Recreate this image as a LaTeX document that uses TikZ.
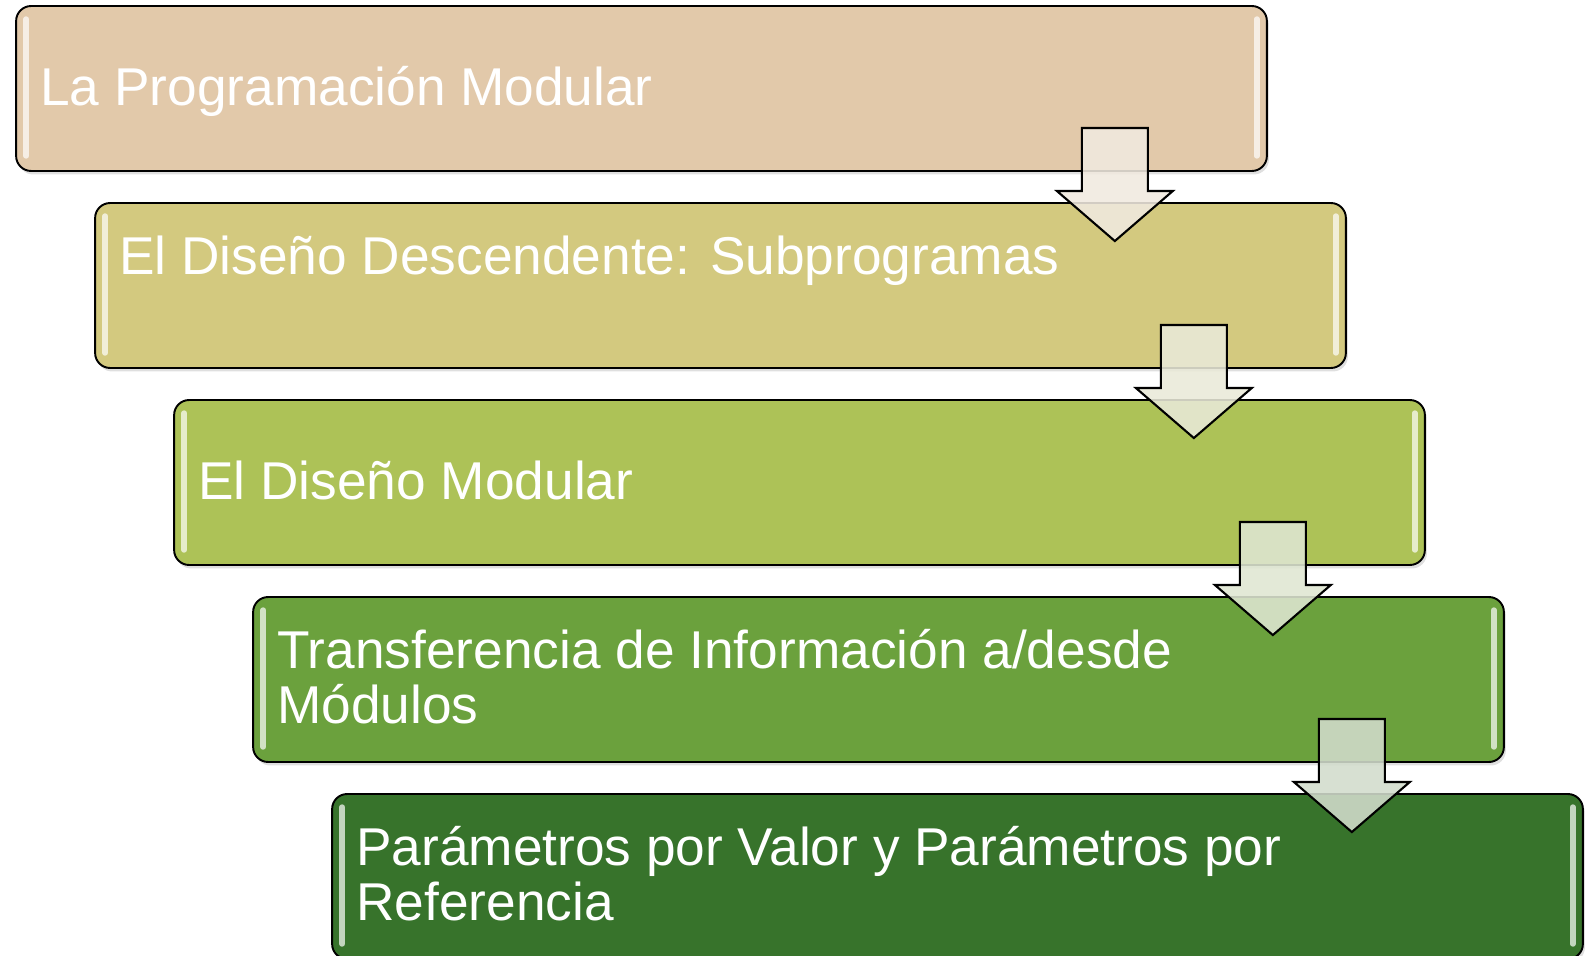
\documentclass[tikz,border=0pt]{standalone}
\usepackage{fontspec}
\setmainfont{Liberation Sans}
\usetikzlibrary{calc,shadows}

\definecolor{stagea}{HTML}{E2C9AA}
\definecolor{stageb}{HTML}{D3C97F}
\definecolor{stagec}{HTML}{ADC257}
\definecolor{staged}{HTML}{6BA13D}
\definecolor{stagee}{HTML}{37732B}
\definecolor{arrowa}{HTML}{F0E9DF}
\definecolor{arrowb}{HTML}{E9E9D8}
\definecolor{arrowc}{HTML}{DFE6D2}
\definecolor{arrowd}{HTML}{D2DCCC}

\tikzset{
  stage/.style={draw=black, line width=1.1pt, rounded corners=0.3cm,
    minimum width=25.02cm, minimum height=3.3cm, inner sep=0pt,
    drop shadow={opacity=0.25, shadow xshift=0.04cm, shadow yshift=-0.07cm}},
  stagetext/.style={text=white, anchor=base west, align=left, inner sep=0pt,
    font=\fontsize{30.3}{31.3}\selectfont},
  gloss/.style={white, opacity=0.7, line width=0.11cm, line cap=round},
  downarrow/.style={draw=black, line width=1.2pt, line join=miter, fill opacity=0.88},
}

% block arrow from the bottom of #1 into the top of #2
\newcommand{\stagearrow}[3]{%
  \coordinate (#1top) at ($(#1.south east)+(-153,-44)$);
  \coordinate (#1tip) at ($(#1top |- #2.north)+(0,39)$);
  \draw[downarrow, fill=#3] ($(#1top)+(-33,0)$) -- ($(#1top)+(33,0)$)
    -- ($(#1top)+(33,63)$) -- ($(#1top)+(58,63)$) -- (#1tip)
    -- ($(#1top)+(-58,63)$) -- ($(#1top)+(-33,63)$) -- cycle;
}

\begin{document}
\begin{tikzpicture}[x=0.02cm, y=-0.02cm]

\useasboundingbox (0,0) rectangle (1585,956);

\node[stage, fill=stagea] (b1) at (641.5,88.5) {};
\node[stage, fill=stageb] (b2) at (720.5,285.5) {};
\node[stage, fill=stagec] (b3) at (799.5,482.5) {};
\node[stage, fill=staged] (b4) at (878.5,679.5) {};
\node[stage, fill=stagee] (b5) at (957.5,876.5) {};

\draw[gloss] ($(b1.north west)+(11,14)$) -- ($(b1.south west)+(11,-16)$);
\draw[gloss] ($(b1.north east)+(-11,14)$) -- ($(b1.south east)+(-11,-16)$);
\draw[gloss] ($(b2.north west)+(11,14)$) -- ($(b2.south west)+(11,-16)$);
\draw[gloss] ($(b2.north east)+(-11,14)$) -- ($(b2.south east)+(-11,-16)$);
\draw[gloss] ($(b3.north west)+(11,14)$) -- ($(b3.south west)+(11,-16)$);
\draw[gloss] ($(b3.north east)+(-11,14)$) -- ($(b3.south east)+(-11,-16)$);
\draw[gloss] ($(b4.north west)+(11,14)$) -- ($(b4.south west)+(11,-16)$);
\draw[gloss] ($(b4.north east)+(-11,14)$) -- ($(b4.south east)+(-11,-16)$);
\draw[gloss] ($(b5.north west)+(11,14)$) -- ($(b5.south west)+(11,-16)$);
\draw[gloss] ($(b5.north east)+(-11,14)$) -- ($(b5.south east)+(-11,-16)$);

\node[stagetext] (t1) at (40,106) {La Programación Modular};
\node[stagetext] (t2) at (119,275) {El Diseño Descendente: Subprogramas};
\node[stagetext] (t3) at (198,499) {El Diseño Modular};
\node[stagetext] (t4) at (277,723) {Transferencia de Información a/desde\\Módulos};
\node[stagetext] (t5) at (356,920) {Parámetros por Valor y Parámetros por\\Referencia};

\stagearrow{b1}{b2}{arrowa}
\stagearrow{b2}{b3}{arrowb}
\stagearrow{b3}{b4}{arrowc}
\stagearrow{b4}{b5}{arrowd}

\end{tikzpicture}
\end{document}
